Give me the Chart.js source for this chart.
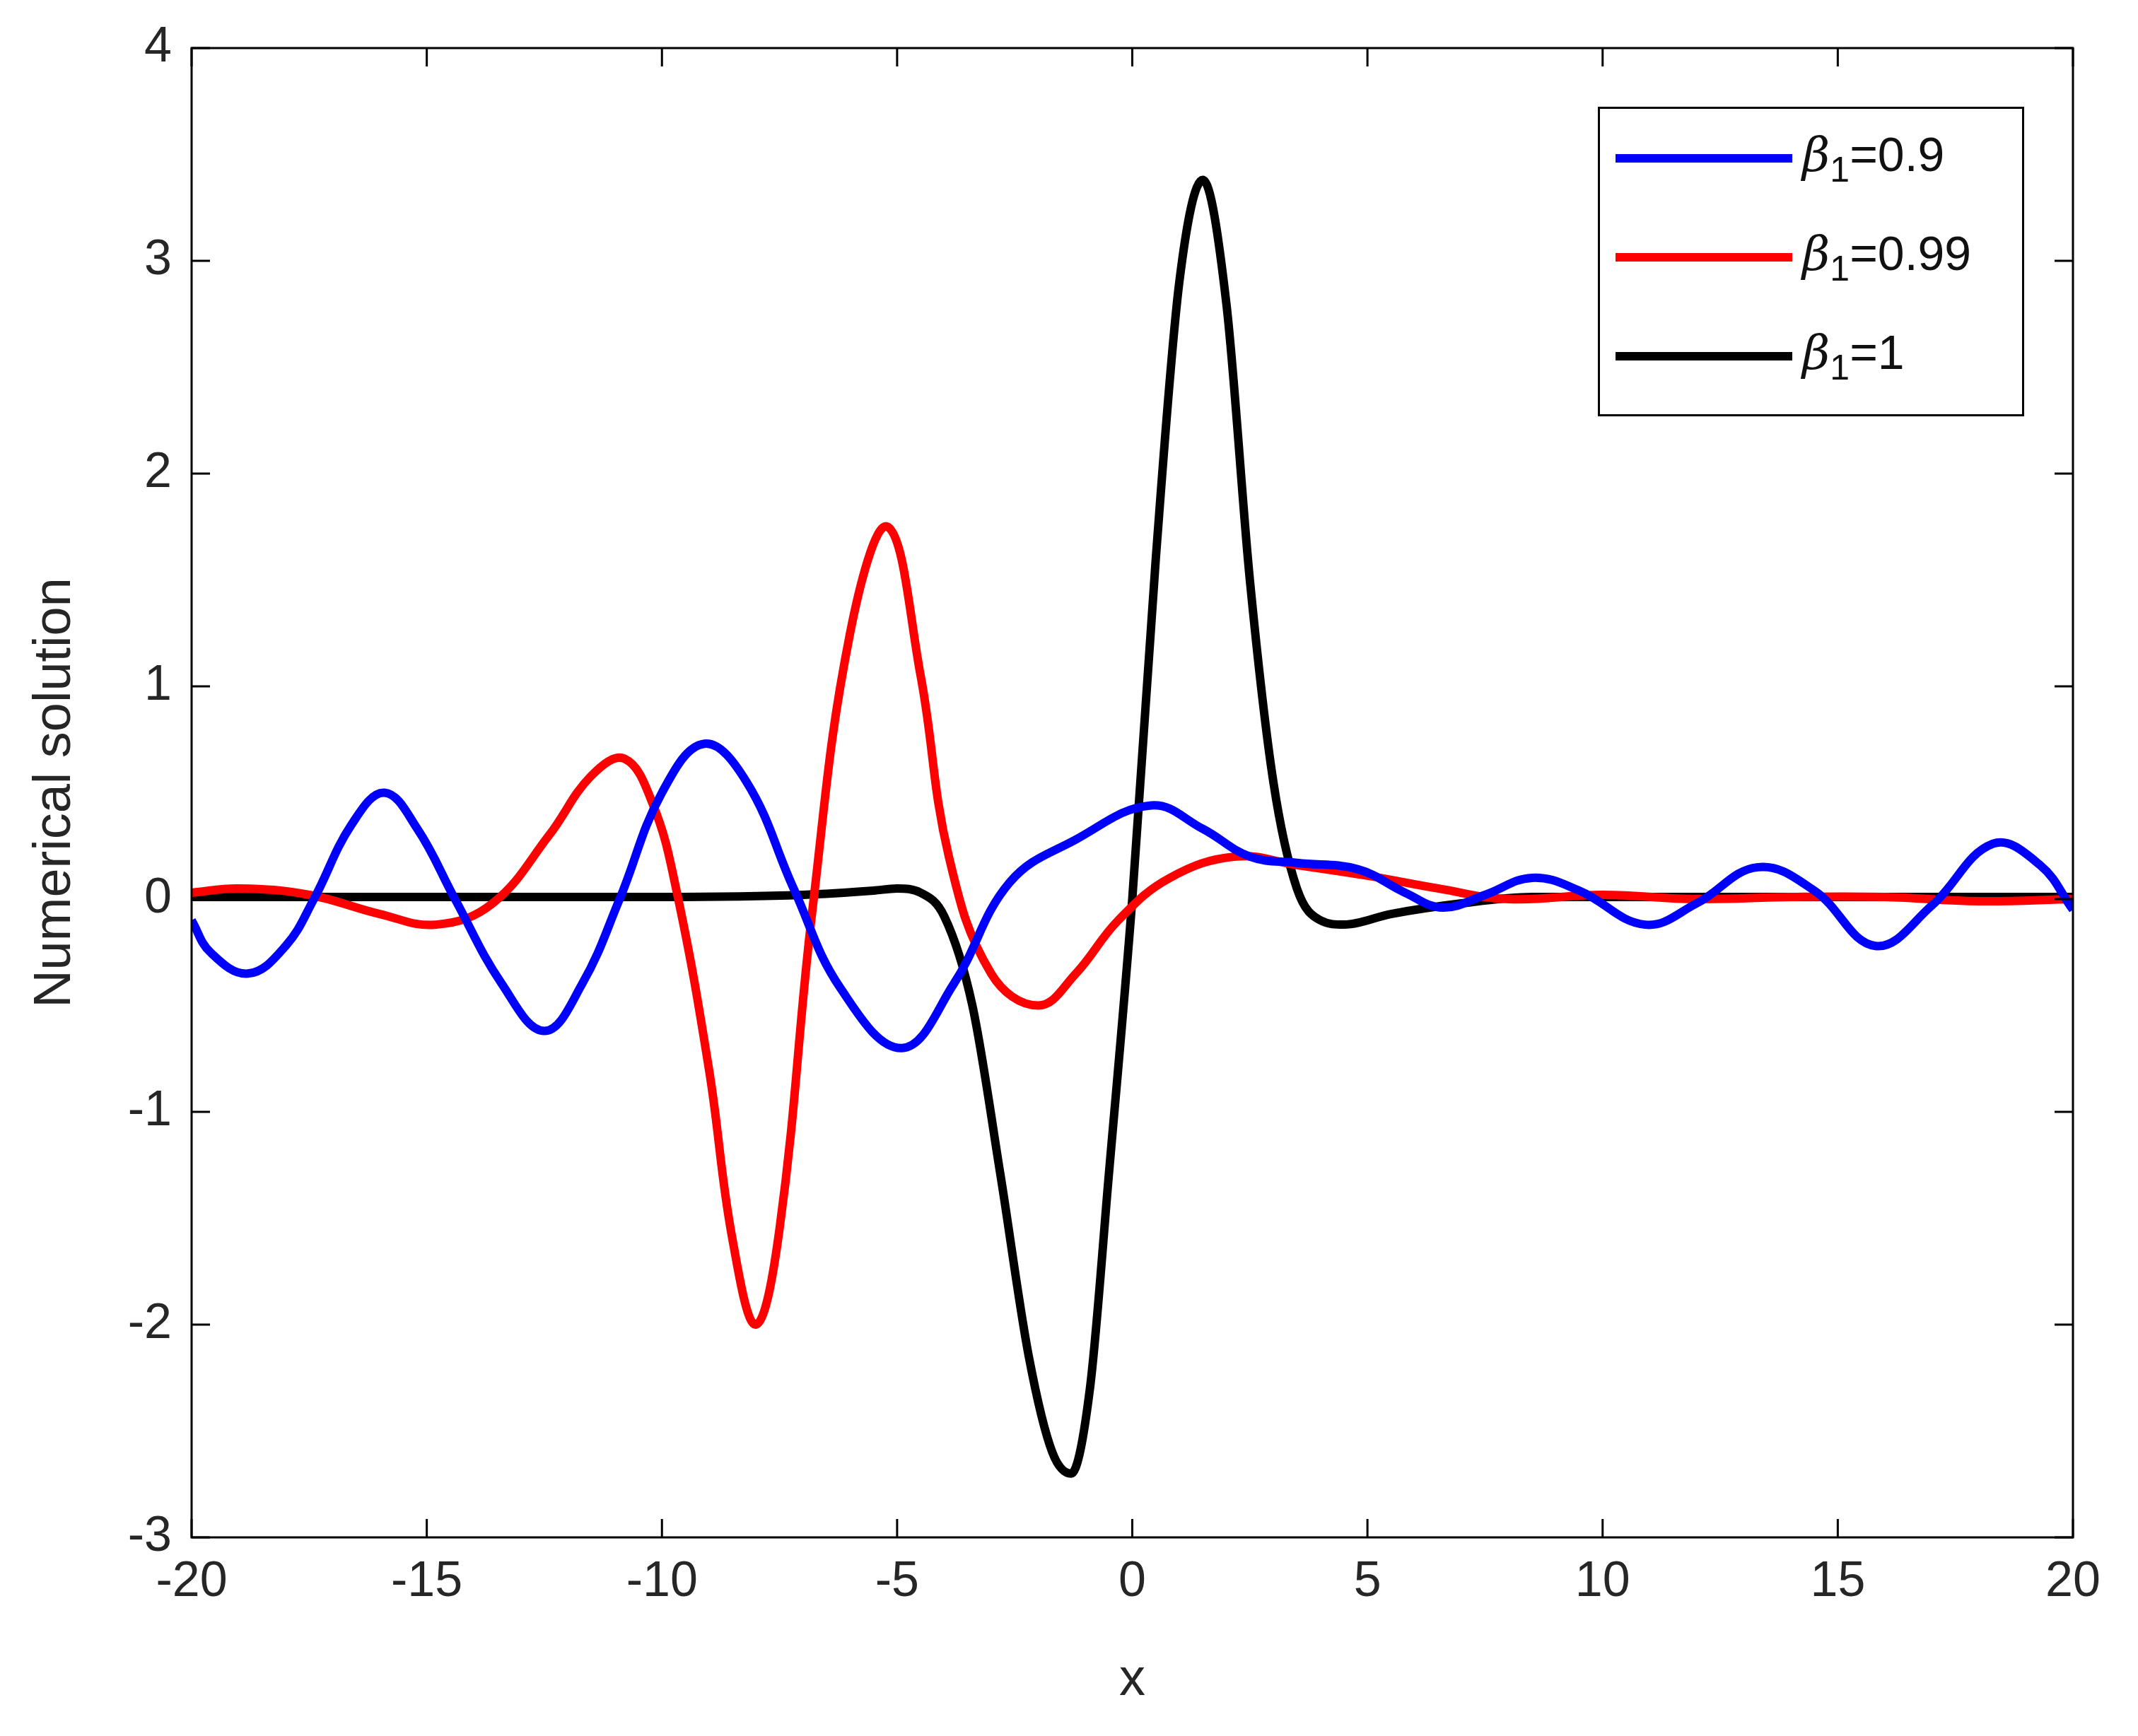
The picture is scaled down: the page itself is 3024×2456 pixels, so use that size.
<!DOCTYPE html>
<html><head><meta charset="utf-8">
<script src="https://cdn.jsdelivr.net/npm/chart.js@4/dist/chart.umd.min.js"></script>
<style>
html,body{margin:0;padding:0;background:#fff;}
#wrap{position:relative;width:3024px;height:2456px;}
#legend{position:absolute;left:2260px;top:151px;width:603px;height:438px;border:3px solid #000;background:#fff;box-sizing:border-box;font-family:"Liberation Sans",Arial,sans-serif;font-size:68px;color:#111;}
.row{position:absolute;left:22px;height:100px;display:flex;align-items:center;}
.sw{width:250px;height:12px;margin-right:14px;}
.lab i{font-family:"DejaVu Serif",serif;}
.lab sub{font-size:50px;}
</style></head>
<body><div id="wrap"><canvas id="c" width="3024" height="2456"></canvas>
<div id="legend">
<div class="row" style="top:20px"><div class="sw" style="background:#0000ff"></div><span class="lab"><i>β</i><sub>1</sub>=0.9</span></div>
<div class="row" style="top:160px"><div class="sw" style="background:#ff0000"></div><span class="lab"><i>β</i><sub>1</sub>=0.99</span></div>
<div class="row" style="top:300px"><div class="sw" style="background:#000"></div><span class="lab"><i>β</i><sub>1</sub>=1</span></div>
</div></div>
<script>
const xTicks=[-20,-15,-10,-5,0,5,10,15,20];
const yTicks=[-3,-2,-1,0,1,2,3,4];
const blueX=[-20,-19.6,-18.8,-18,-17.4,-16.6,-15.9,-15.2,-14.4,-13.4,-12.5,-11.7,-10.9,-10,-9.1,-8.2,-7.2,-6.2,-4.9,-3.8,-2.6,-1.2,0.4,1.5,2.5,3.5,4.8,5.8,6.6,7.5,8.5,9.5,10.9,12,13.3,14.5,15.8,17,18.3,19.3,20];
const blueY=[-0.1,-0.25,-0.35,-0.22,0,0.35,0.5,0.33,0,-0.4,-0.62,-0.4,0,0.5,0.73,0.55,0.05,-0.42,-0.7,-0.4,0.08,0.28,0.44,0.33,0.2,0.17,0.14,0.03,-0.04,0.02,0.1,0.04,-0.12,-0.02,0.15,0.04,-0.22,-0.03,0.26,0.16,-0.05];
const redX=[-20,-19,-17.5,-16,-14.8,-13.6,-12.4,-11.5,-10.8,-10.2,-9.7,-9,-8.5,-8,-7.5,-6.8,-6,-5.2,-4.5,-3.9,-3,-2,-1.2,-0.3,0.8,2.2,3.5,5,6.5,8,10,12,14,16,18,20];
const redY=[0.03,0.05,0.02,-0.07,-0.12,-0.02,0.3,0.58,0.66,0.45,0.05,-0.8,-1.6,-2.0,-1.55,-0.05,1.25,1.75,1.05,0.2,-0.35,-0.5,-0.35,-0.1,0.1,0.2,0.16,0.11,0.05,0.0,0.02,0,0.01,0.01,-0.01,0];
const blackX=[-20,-15,-10,-7,-5.5,-5,-4.5,-4,-3.4,-2.8,-2.2,-1.7,-1.3,-0.9,-0.5,0,0.5,1,1.5,2,2.5,3,3.5,4,4.5,5.5,7,8.5,10,15,20];
const blackY=[0.01,0.01,0.01,0.02,0.04,0.05,0.03,-0.08,-0.5,-1.3,-2.15,-2.6,-2.7,-2.3,-1.3,0,1.6,2.9,3.38,2.8,1.5,0.55,0.05,-0.1,-0.12,-0.07,-0.02,0.01,0.01,0.01,0.01];
const pts=(xs,ys)=>xs.map((x,i)=>({x:x,y:ys[i]}));
const F='"Liberation Sans",Arial,sans-serif';
const frame={id:'frame',afterDraw(c){const a=c.chartArea,g=c.ctx;g.save();g.strokeStyle='#000';g.lineWidth=3;g.strokeRect(a.left,a.top,a.right-a.left,a.bottom-a.top);
g.beginPath();xTicks.forEach(t=>{const p=c.scales.x.getPixelForValue(t);g.moveTo(p,a.bottom);g.lineTo(p,a.bottom-26);g.moveTo(p,a.top);g.lineTo(p,a.top+26);});
yTicks.forEach(t=>{const p=c.scales.y.getPixelForValue(t);g.moveTo(a.left,p);g.lineTo(a.left+26,p);g.moveTo(a.right,p);g.lineTo(a.right-26,p);});g.stroke();g.restore();}};
const ds=(d,col,mono)=>({data:d,borderColor:col,borderWidth:12,pointRadius:0,tension:0.4,cubicInterpolationMode:mono?'monotone':'default',fill:false});
new Chart(document.getElementById('c'),{type:'line',
data:{datasets:[ds(pts(blueX,blueY),'#0000ff',false),ds(pts(redX,redY),'#ff0000',false),ds(pts(blackX,blackY),'#000000',true)]},
options:{responsive:false,animation:false,devicePixelRatio:1,layout:{padding:{top:68,right:92,left:30,bottom:30}},
plugins:{legend:{display:false},tooltip:{enabled:false}},
scales:{
x:{type:'linear',min:-20,max:20,afterBuildTicks:s=>{s.ticks=xTicks.map(v=>({value:v}));},afterFit:s=>{s.height=251;},
grid:{display:false},border:{display:false},ticks:{color:'#262626',font:{family:F,size:70},padding:14,maxRotation:0},
title:{display:true,text:'x',color:'#262626',font:{family:F,size:74},padding:{top:0}}},
y:{type:'linear',min:-3,max:4,afterBuildTicks:s=>{s.ticks=yTicks.map(v=>({value:v}));},afterFit:s=>{s.width=241;},
grid:{display:false},border:{display:false},ticks:{color:'#262626',font:{family:F,size:70},padding:20},
title:{display:true,text:'Numerical solution',color:'#262626',font:{family:F,size:74},padding:{bottom:0}}}}},
plugins:[frame]});
</script></body></html>
